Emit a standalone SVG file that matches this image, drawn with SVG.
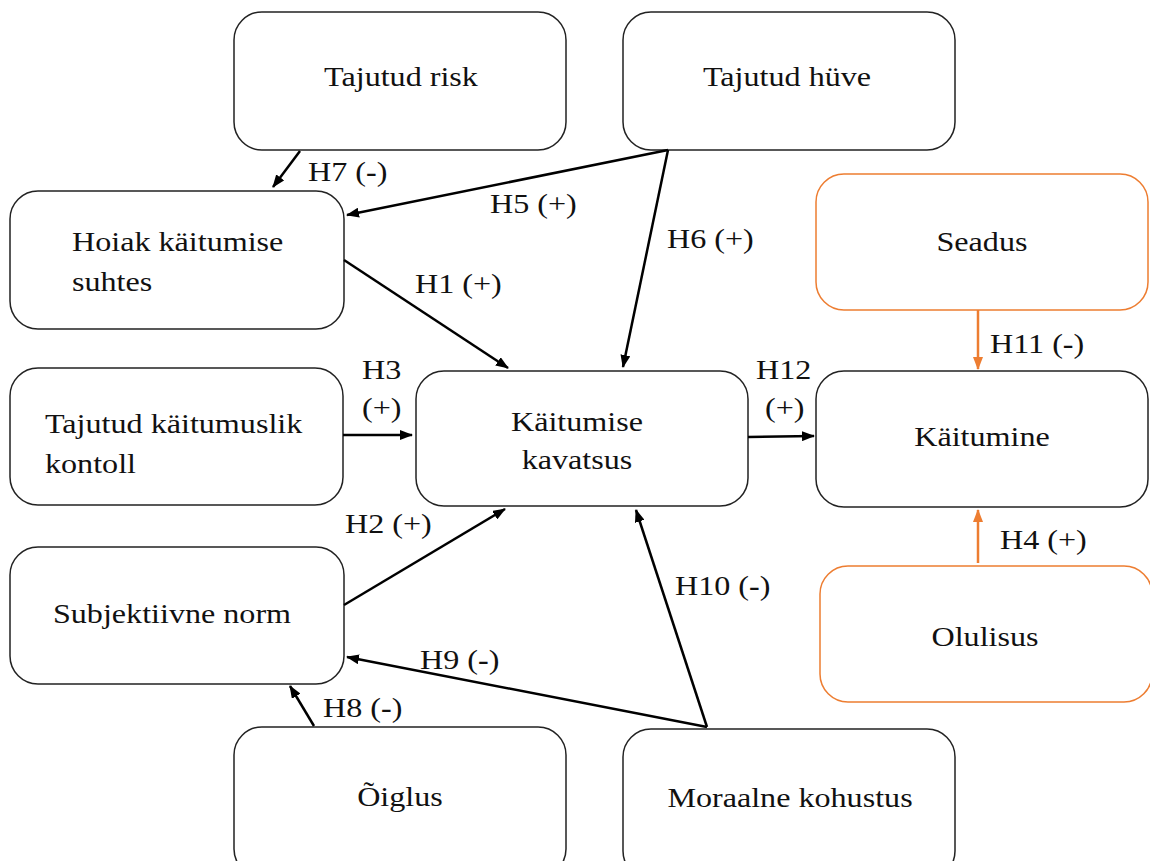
<svg xmlns="http://www.w3.org/2000/svg" width="1150" height="861" viewBox="0 0 1150 861">
<defs>
<marker id="ah" markerWidth="13" markerHeight="10" refX="12" refY="5" orient="auto" markerUnits="userSpaceOnUse" viewBox="0 0 13 10">
<path d="M0,0 L13,5 L0,10 z" fill="#000"/>
</marker>
<marker id="ao" markerWidth="13" markerHeight="10" refX="12" refY="5" orient="auto" markerUnits="userSpaceOnUse" viewBox="0 0 13 10">
<path d="M0,0 L13,5 L0,10 z" fill="#ED7D31"/>
</marker>
<style>
.box{fill:#fff;stroke:#222;stroke-width:1.5}
.obox{fill:#fff;stroke:#ED7D31;stroke-width:1.5}
text{font-family:"Liberation Serif","Times New Roman",serif;font-size:27px;fill:#111}
.c{text-anchor:middle}
.b{font-weight:bold}
.ln{stroke:#000;stroke-width:2.5;fill:none;marker-end:url(#ah)}
.lo{stroke:#ED7D31;stroke-width:2.5;fill:none;marker-end:url(#ao)}
</style>
</defs>
<rect width="1150" height="861" fill="#fff"/>

<g id="risk"><rect class="box" x="234" y="12" width="332" height="138" rx="28"/>
<text class="c" transform="matrix(1.19 0 0 1 401 86)">Tajutud risk</text></g>

<g id="huve"><rect class="box" x="623" y="12" width="332" height="138" rx="28"/>
<text class="c" transform="matrix(1.19 0 0 1 787 86)">Tajutud hüve</text></g>

<g id="hoiak"><rect class="box" x="10" y="191" width="334" height="138" rx="28"/>
<text transform="matrix(1.19 0 0 1 72 251)">Hoiak käitumise</text>
<text transform="matrix(1.19 0 0 1 72 291)">suhtes</text></g>

<g id="seadus"><rect class="obox" x="816" y="174" width="332" height="136" rx="28"/>
<text class="c" transform="matrix(1.19 0 0 1 982 251)">Seadus</text></g>

<g id="kontroll"><rect class="box" x="10" y="368" width="333" height="137" rx="28"/>
<text transform="matrix(1.19 0 0 1 45 433)">Tajutud käitumuslik</text>
<text transform="matrix(1.19 0 0 1 45 473)">kontoll</text></g>

<g id="kavatsus"><rect class="box" x="416" y="371" width="332" height="135" rx="28"/>
<text class="c" transform="matrix(1.19 0 0 1 577 431)">Käitumise</text>
<text class="c" transform="matrix(1.19 0 0 1 577 469)">kavatsus</text></g>

<g id="kaitumine"><rect class="box" x="816" y="371" width="332" height="136" rx="28"/>
<text class="c" transform="matrix(1.19 0 0 1 982 446)">Käitumine</text></g>

<g id="norm"><rect class="box" x="10" y="547" width="334" height="137" rx="28"/>
<text class="c" transform="matrix(1.19 0 0 1 172 623)">Subjektiivne norm</text></g>

<g id="olulisus"><rect class="obox" x="820" y="566" width="332" height="136" rx="28"/>
<text class="c" transform="matrix(1.19 0 0 1 985 646)">Olulisus</text></g>

<g id="oiglus"><rect class="box" x="234" y="727" width="332" height="150" rx="28"/>
<text class="c" transform="matrix(1.19 0 0 1 400 806)">Õiglus</text></g>

<g id="moraal"><rect class="box" x="623" y="729" width="332" height="150" rx="28"/>
<text class="c" transform="matrix(1.19 0 0 1 790 807)">Moraalne kohustus</text></g>

<g id="connectors">
<line class="ln" x1="300" y1="151" x2="273" y2="187"/>
<line class="ln" x1="668" y1="150" x2="347" y2="215"/>
<line class="ln" x1="668" y1="150" x2="623" y2="367"/>
<line class="ln" x1="344" y1="260" x2="508" y2="368"/>
<line class="ln" x1="343" y1="435" x2="412" y2="435"/>
<line class="ln" x1="748" y1="437" x2="814" y2="436"/>
<line class="ln" x1="344" y1="605" x2="505" y2="509"/>
<line class="ln" x1="707" y1="727" x2="636" y2="510"/>
<line class="ln" x1="707" y1="727" x2="347" y2="657"/>
<line class="ln" x1="314" y1="726" x2="290" y2="686"/>
<line class="lo" x1="978" y1="310" x2="978" y2="369"/>
<line class="lo" x1="978" y1="563" x2="978" y2="510"/>

<text transform="matrix(1.19 0 0 1 308 181)">H7 (<tspan class="b">-</tspan>)</text>
<text transform="matrix(1.19 0 0 1 490 213)">H5 (+)</text>
<text transform="matrix(1.19 0 0 1 667 248)">H6 (+)</text>
<text transform="matrix(1.19 0 0 1 415 293)">H1 (+)</text>
<text transform="matrix(1.19 0 0 1 362 379)">H3</text>
<text transform="matrix(1.19 0 0 1 362 417)">(+)</text>
<text transform="matrix(1.19 0 0 1 756 379)">H12</text>
<text transform="matrix(1.19 0 0 1 765 417)">(+)</text>
<text transform="matrix(1.19 0 0 1 990 353)">H11 (<tspan class="b">-</tspan>)</text>
<text transform="matrix(1.19 0 0 1 345 533)">H2 (+)</text>
<text transform="matrix(1.19 0 0 1 1000 549)">H4 (+)</text>
<text transform="matrix(1.19 0 0 1 675 595)">H10 (<tspan class="b">-</tspan>)</text>
<text transform="matrix(1.19 0 0 1 420 669)">H9 (<tspan class="b">-</tspan>)</text>
<text transform="matrix(1.19 0 0 1 323 717)">H8 (<tspan class="b">-</tspan>)</text>
</g>
</svg>
